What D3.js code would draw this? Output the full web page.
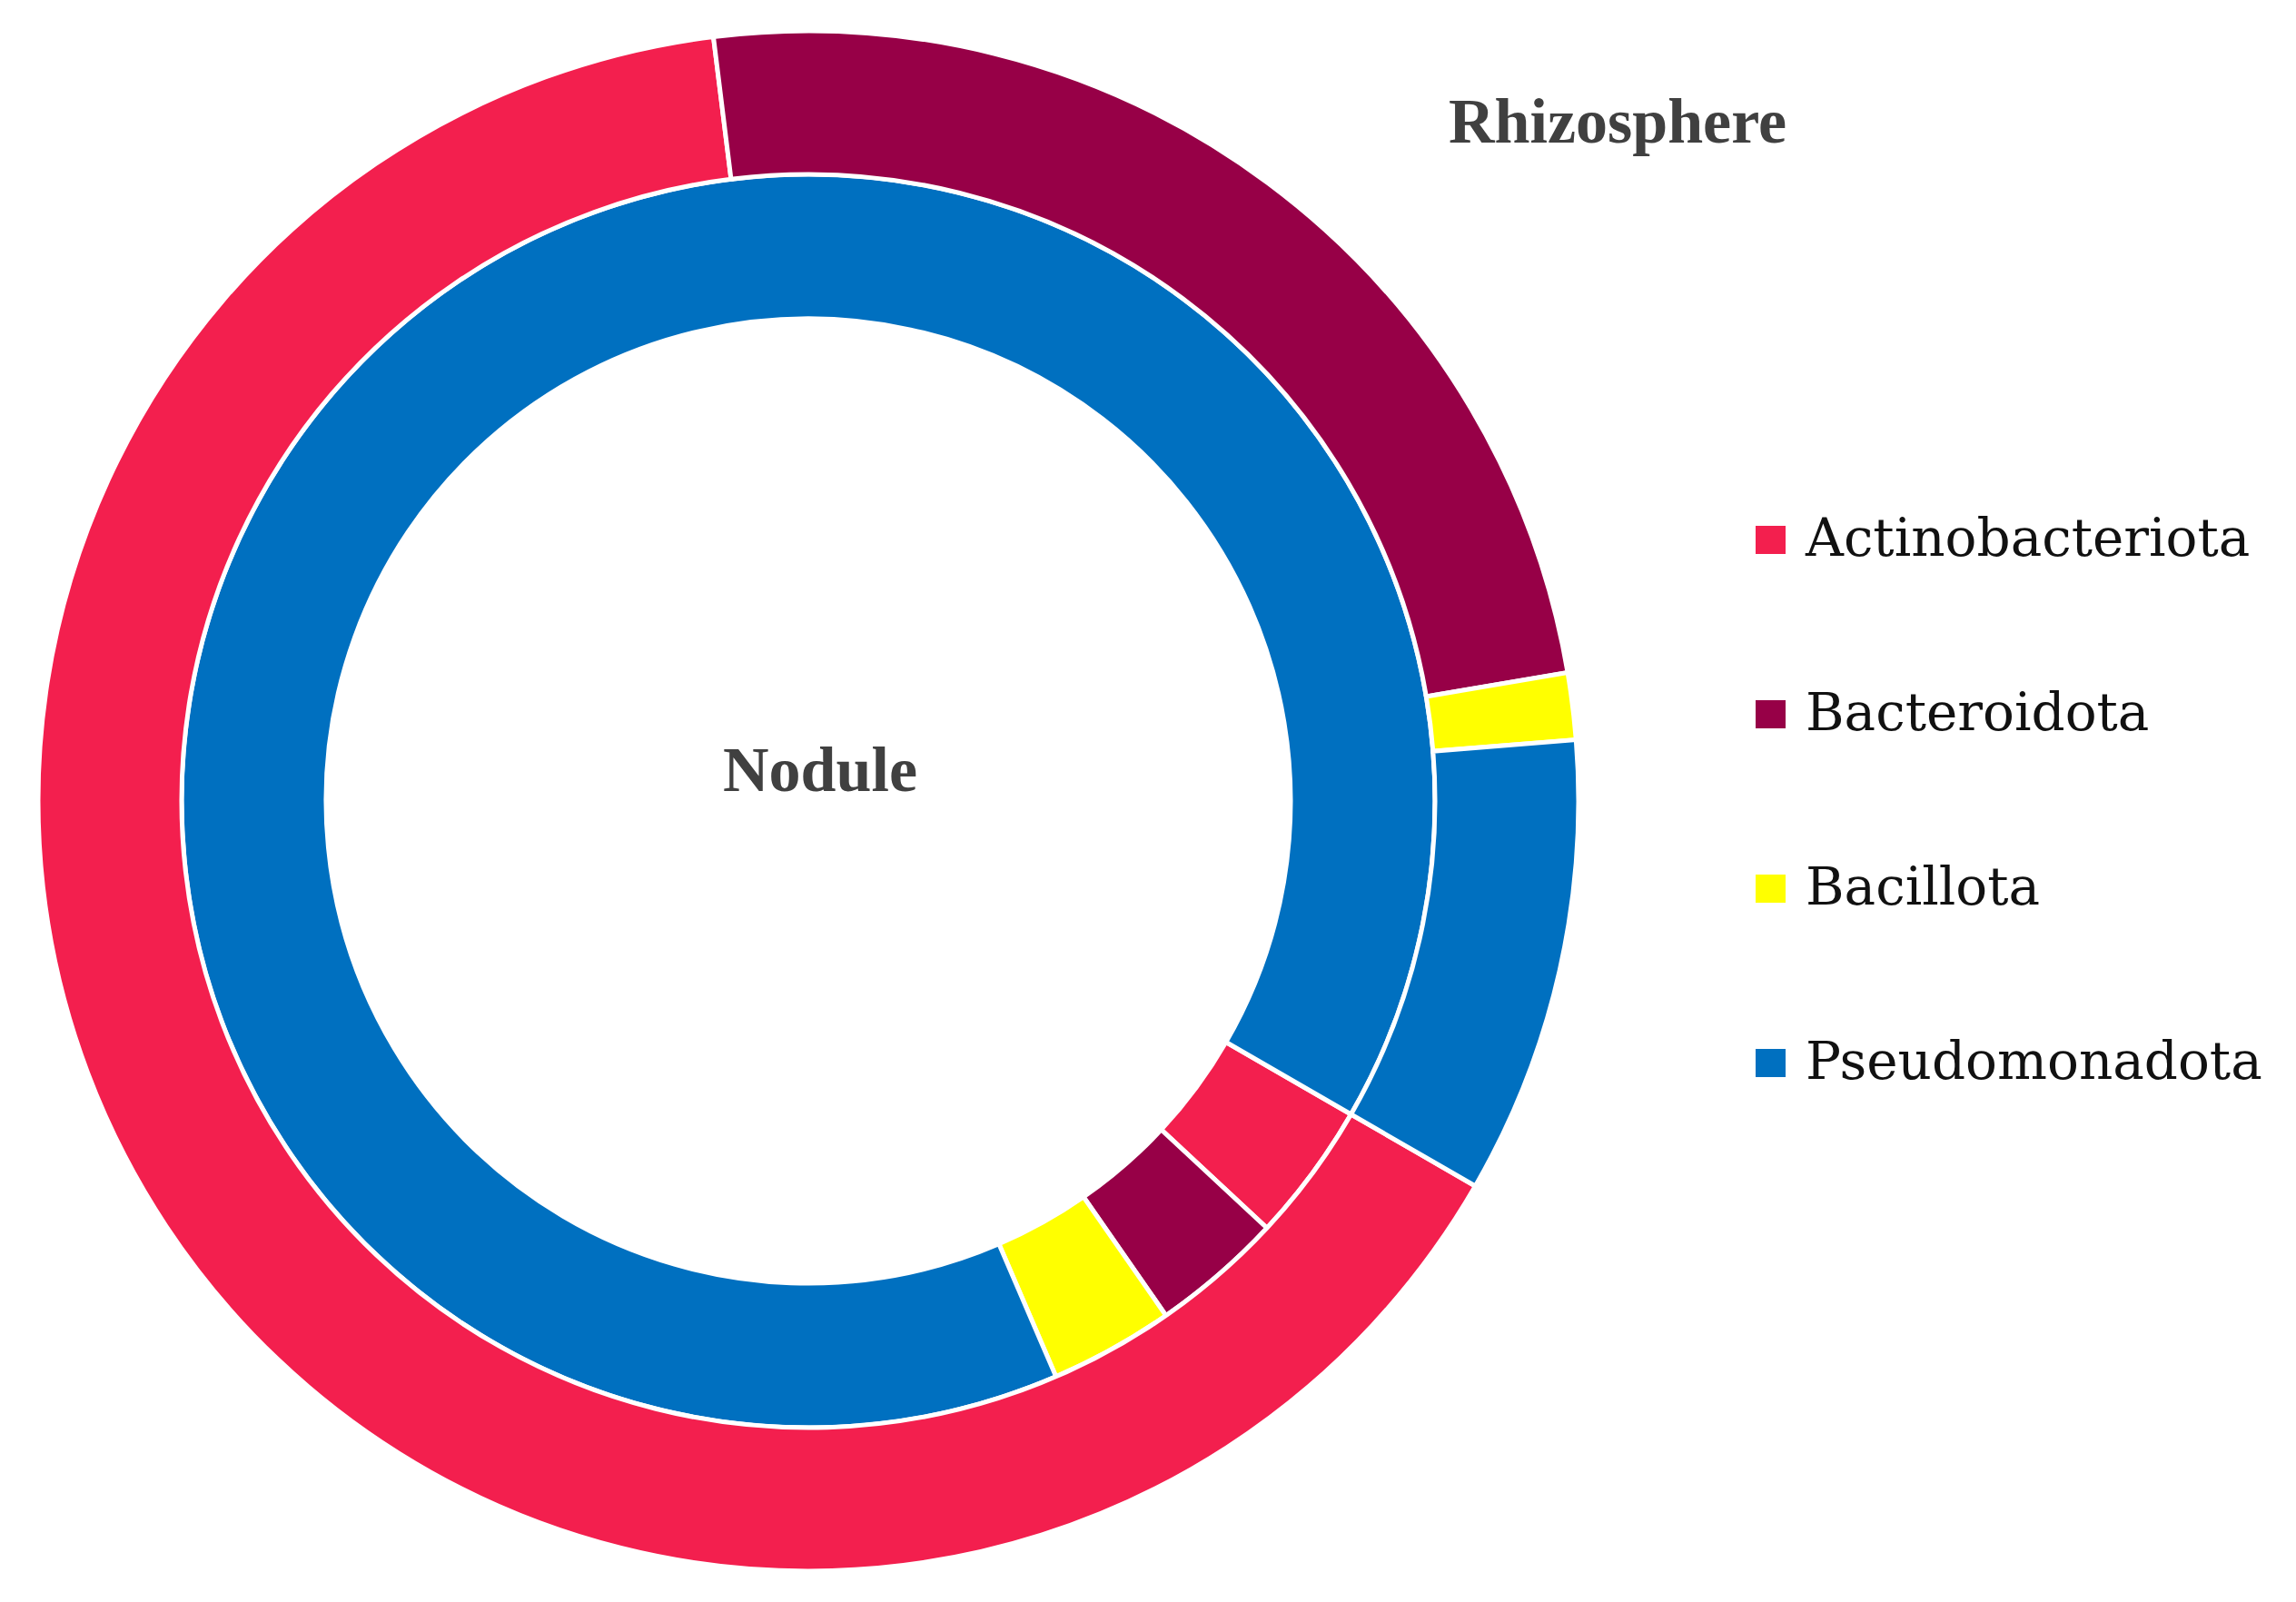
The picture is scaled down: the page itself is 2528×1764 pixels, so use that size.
<!DOCTYPE html>
<html>
<head>
<meta charset="utf-8">
<script src="https://cdn.jsdelivr.net/npm/d3@7"></script>
<style>
  body { margin: 0; background: #fff; }
  svg { display: block; }
</style>
</head>
<body>
<div id="chart"></div>
<script>
// phyla, same order in both rings
const categories = ['Actinobacteriota', 'Bacteroidota', 'Bacillota', 'Pseudomonadota'];
// relative abundance (%)
const nodule = [3.6, 3.4, 3.2, 89.8];
const rhizosphere = [64.7, 24.3, 1.4, 9.6];
const ringNames = ['Nodule', 'Rhizosphere'];
const colors = ['#f31f4e', '#970047', '#ffff00', '#0070c0'];

let width = 2528;
let height = 1764;
let cx = 890;
let cy = 882;
let firstSliceAngle = 120; // degrees, like excel's "angle of first slice"

let svg = d3.select('#chart')
  .append('svg')
  .attr('width', width)
  .attr('height', height);

let color = d3.scaleOrdinal().domain(categories).range(colors);

let pie = d3.pie()
  .sort(null)
  .value(d => d.value)
  .startAngle(firstSliceAngle * Math.PI / 180)
  .endAngle(firstSliceAngle * Math.PI / 180 + 2 * Math.PI);

let rings = [
  { name: ringNames[0], values: nodule, inner: 531, outer: 690 },
  { name: ringNames[1], values: rhizosphere, inner: 690, outer: 848 }
];

let g = svg.append('g').attr('transform', `translate(${cx}, ${cy})`);

rings.forEach((ring) => {
  let arc = d3.arc().innerRadius(ring.inner).outerRadius(ring.outer);
  let data = categories.map((c, i) => ({ name: c, value: ring.values[i] }));

  g.append('g')
    .selectAll('path')
    .data(pie(data))
    .enter()
    .append('path')
    .attr('d', arc)
    .attr('fill', d => color(d.data.name))
    .attr('stroke', '#fff')
    .attr('stroke-width', 5);
});

// ring labels
svg.append('text')
  .attr('x', 903)
  .attr('y', 871)
  .attr('text-anchor', 'middle')
  .attr('font-family', 'Liberation Serif, serif')
  .attr('font-weight', 'bold')
  .attr('font-size', 70)
  .attr('fill', '#404040')
  .text(ringNames[0]);

svg.append('text')
  .attr('x', 1781)
  .attr('y', 157)
  .attr('text-anchor', 'middle')
  .attr('font-family', 'Liberation Serif, serif')
  .attr('font-weight', 'bold')
  .attr('font-size', 70)
  .attr('fill', '#404040')
  .text(ringNames[1]);

// legend
let legend = svg.append('g')
  .selectAll('g')
  .data(categories)
  .enter()
  .append('g')
  .attr('transform', (d, i) => `translate(1933, ${612 + i * 192})`);

legend.append('rect')
  .attr('x', 0)
  .attr('y', -33)
  .attr('width', 33)
  .attr('height', 31)
  .attr('fill', d => color(d));

legend.append('text')
  .attr('x', 55)
  .attr('y', 0)
  .attr('font-family', 'DejaVu Serif, serif')
  .attr('font-size', 58)
  .attr('fill', '#111')
  .text(d => d);
</script>
</body>
</html>
